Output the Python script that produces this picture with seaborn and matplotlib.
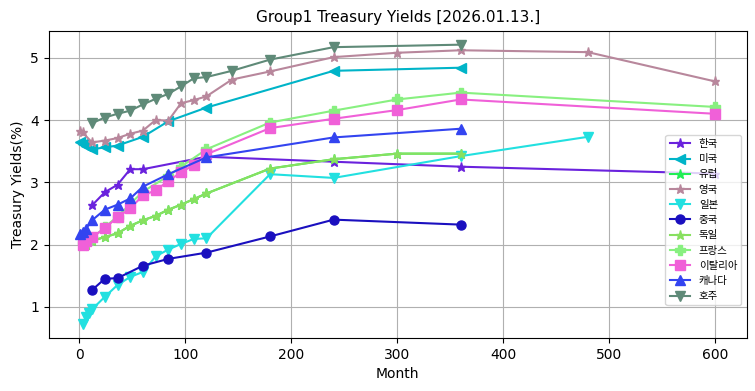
import pandas as pd
import matplotlib
matplotlib.use("Agg")
import matplotlib.pyplot as plt
import seaborn as sns

# yields by maturity (months)
kr_m = [12, 24, 36, 48, 60, 120, 240, 360, 600]
kr_y = [2.63, 2.84, 2.96, 3.21, 3.21, 3.41, 3.33, 3.25, 3.14]

us_m = [1, 3, 6, 12, 24, 36, 60, 84, 120, 240, 360]
us_y = [3.64, 3.62, 3.58, 3.53, 3.56, 3.59, 3.73, 3.98, 4.20, 4.79, 4.84]

eu_m = [3, 6, 12, 24, 36, 48, 60, 72, 84, 96, 108, 120, 180, 240, 300, 360]
eu_y = [1.98, 2.00, 2.06, 2.12, 2.18, 2.30, 2.39, 2.46, 2.56, 2.64, 2.73, 2.82, 3.22, 3.37, 3.46, 3.46]

uk_m = [1, 3, 12, 24, 36, 48, 60, 72, 84, 96, 108, 120, 144, 180, 240, 300, 360, 480, 600]
uk_y = [3.83, 3.80, 3.64, 3.67, 3.71, 3.78, 3.83, 4.00, 3.99, 4.27, 4.32, 4.38, 4.65, 4.78, 5.01, 5.08, 5.12, 5.09, 4.62]

jp_m = [3, 6, 9, 12, 24, 36, 48, 60, 72, 84, 96, 108, 120, 180, 240, 360, 480]
jp_y = [0.72, 0.83, 0.90, 0.96, 1.16, 1.35, 1.48, 1.56, 1.81, 1.92, 2.01, 2.09, 2.10, 3.13, 3.07, 3.42, 3.73]

cn_m = [12, 24, 36, 60, 84, 120, 180, 240, 360]
cn_y = [1.27, 1.45, 1.46, 1.66, 1.77, 1.87, 2.13, 2.40, 2.32]

de_m = [3, 6, 12, 24, 36, 48, 60, 72, 84, 96, 108, 120, 180, 240, 300, 360]
de_y = [1.98, 2.00, 2.06, 2.12, 2.18, 2.30, 2.39, 2.46, 2.56, 2.64, 2.73, 2.82, 3.22, 3.37, 3.46, 3.46]

fr_m = [3, 12, 24, 36, 60, 84, 96, 120, 180, 240, 300, 360, 600]
fr_y = [2.02, 2.10, 2.28, 2.45, 2.85, 3.10, 3.25, 3.53, 3.96, 4.15, 4.33, 4.44, 4.21]

it_m = [3, 6, 12, 24, 36, 48, 60, 72, 84, 96, 108, 120, 180, 240, 300, 360, 600]
it_y = [2.00, 2.05, 2.12, 2.26, 2.44, 2.58, 2.79, 2.87, 3.02, 3.16, 3.28, 3.45, 3.87, 4.02, 4.16, 4.33, 4.10]

ca_m = [1, 3, 6, 12, 24, 36, 48, 60, 84, 120, 240, 360]
ca_y = [2.17, 2.20, 2.25, 2.39, 2.56, 2.64, 2.74, 2.93, 3.13, 3.40, 3.72, 3.86]

au_m = [12, 24, 36, 48, 60, 72, 84, 96, 108, 120, 144, 180, 240, 360]
au_y = [3.95, 4.04, 4.10, 4.15, 4.25, 4.34, 4.42, 4.54, 4.67, 4.69, 4.79, 4.97, 5.17, 5.21]

series = [
    ("한국", kr_m, kr_y, "*", "#6a22dd"),
    ("미국", us_m, us_y, "<", "#00b4c8"),
    ("유럽", eu_m, eu_y, "*", "#22ee55"),
    ("영국", uk_m, uk_y, "*", "#b8879c"),
    ("일본", jp_m, jp_y, "v", "#22e0e0"),
    ("중국", cn_m, cn_y, "o", "#1a0fbf"),
    ("독일", de_m, de_y, "*", "#88e060"),
    ("프랑스", fr_m, fr_y, "P", "#88f080"),
    ("이탈리아", it_m, it_y, "s", "#f060d8"),
    ("캐나다", ca_m, ca_y, "^", "#3344f0"),
    ("호주", au_m, au_y, "v", "#5f8a78"),
]

plt.rcParams['font.family'] = ['DejaVu Sans', 'Noto Sans CJK KR']

fig, ax = plt.subplots(figsize=(7.55, 3.91), dpi=100)
fig.subplots_adjust(left=0.0645, right=0.989, top=0.9215, bottom=0.135)

for name, m, y, mk, c in series:
    df = pd.DataFrame({"Month": m, "Yield": y})
    sns.lineplot(data=df, x="Month", y="Yield", ax=ax, label=name, color=c,
                 marker=mk, markersize=6.5, markeredgecolor=c, markeredgewidth=1,
                 linewidth=1.5)

ax.grid(True, color="#b0b0b0", linewidth=0.8)
ax.set_axisbelow(True)
ax.set_title("Group1 Treasury Yields [2026.01.13.]", fontsize=11)
ax.set_xlabel("Month")
ax.set_ylabel("Treasury Yields(%)")
ax.legend(loc="lower right", bbox_to_anchor=(1, 0.09), fontsize=7.5)

fig.savefig("out.png", dpi=100)
